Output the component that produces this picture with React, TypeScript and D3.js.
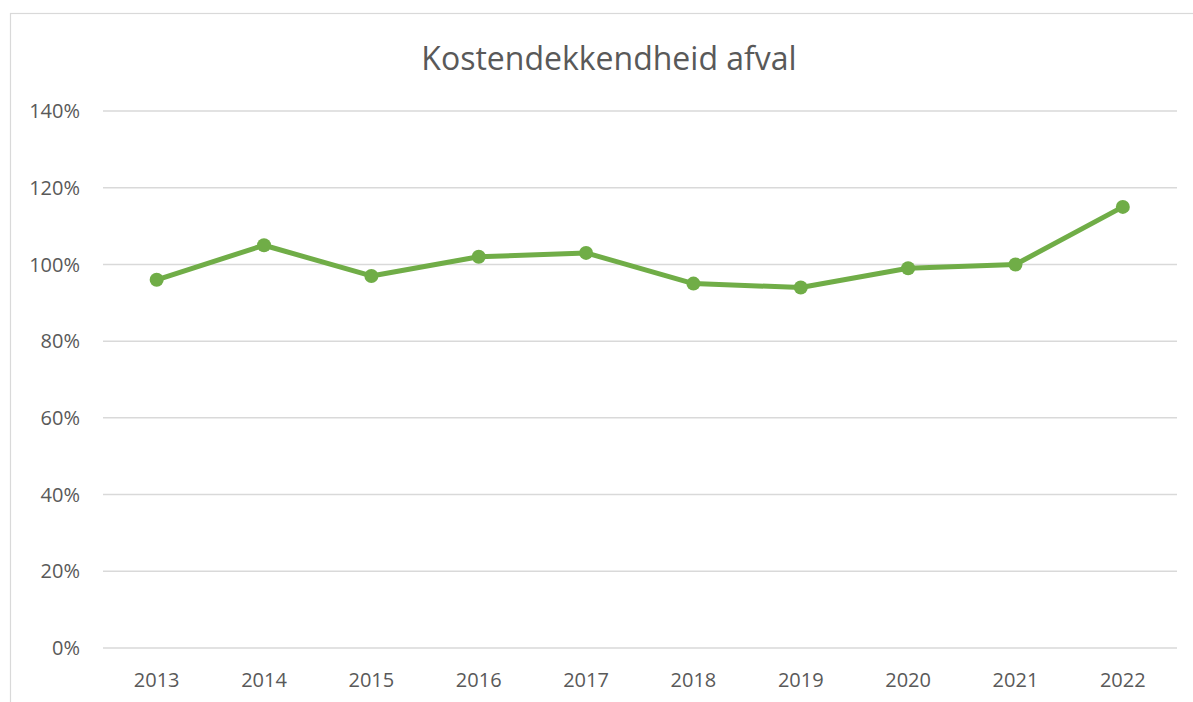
import * as d3 from "d3"
import { useEffect, useRef } from "react"

// chart data
const years = ["2013", "2014", "2015", "2016", "2017", "2018", "2019", "2020", "2021", "2022"]
const kostendekkendheid = [0.96, 1.05, 0.97, 1.02, 1.03, 0.95, 0.94, 0.99, 1.0, 1.15]
const yTicks = [0, 0.2, 0.4, 0.6, 0.8, 1.0, 1.2, 1.4]
const title = "Kostendekkendheid afval"

export default function App() {
  const ref = useRef<SVGSVGElement>(null)

  useEffect(() => {
    const width = 1193, height = 702
    const margin = { top: 111, right: 16, bottom: 54, left: 103 }
    const font = "'Open Sans', 'Liberation Sans', sans-serif"

    const svg = d3.select(ref.current)
    svg.selectAll("*").remove()

    // outer chart area border
    svg.append("rect")
      .attr("x", 10.5).attr("y", 13.5)
      .attr("width", width + 10).attr("height", height + 10)
      .attr("fill", "white")
      .attr("stroke", "#d9d9d9")
      .attr("stroke-width", 1.2)

    const x = d3.scaleBand()
      .domain(years)
      .range([margin.left, width - margin.right - 0.5])

    const y = d3.scaleLinear()
      .domain([0, 1.4])
      .range([height - margin.bottom, margin.top])

    // gridlines
    svg.append("g").selectAll("line").data(yTicks).enter().append("line")
      .attr("x1", margin.left).attr("x2", width - margin.right)
      .attr("y1", d => y(d)).attr("y2", d => y(d))
      .attr("stroke", "#d9d9d9")
      .attr("stroke-width", 1.5)

    // y labels
    svg.append("g").selectAll("text").data(yTicks).enter().append("text")
      .attr("x", 80)
      .attr("y", d => y(d))
      .attr("dy", "0.36em")
      .attr("text-anchor", "end")
      .attr("font-family", font)
      .attr("font-size", 20)
      .attr("fill", "#595959")
      .text(d => d3.format(".0%")(d))

    // x labels
    svg.append("g").selectAll("text").data(years).enter().append("text")
      .attr("x", d => x(d)! + x.bandwidth() / 2)
      .attr("y", 687)
      .attr("text-anchor", "middle")
      .attr("font-family", font)
      .attr("font-size", 20)
      .attr("fill", "#595959")
      .text(d => d)

    const pts = years.map((yr, i) => [x(yr)! + x.bandwidth() / 2, y(kostendekkendheid[i])] as [number, number])

    svg.append("path")
      .datum(pts)
      .attr("d", d3.line())
      .attr("fill", "none")
      .attr("stroke", "#70ad47")
      .attr("stroke-width", 5)
      .attr("stroke-linejoin", "round")
      .attr("stroke-linecap", "round")

    svg.append("g").selectAll("circle").data(pts).enter().append("circle")
      .attr("cx", d => d[0]).attr("cy", d => d[1])
      .attr("r", 7)
      .attr("fill", "#70ad47")

    // title
    svg.append("text")
      .attr("x", 609)
      .attr("y", 70)
      .attr("text-anchor", "middle")
      .attr("font-family", font)
      .attr("font-size", 32)
      .attr("fill", "#595959")
      .text(title)
  }, [])

  return (
    <svg ref={ref} width={1193} height={702}
      style={{ position: "absolute", left: 0, top: 0, display: "block" }} />
  )
}
